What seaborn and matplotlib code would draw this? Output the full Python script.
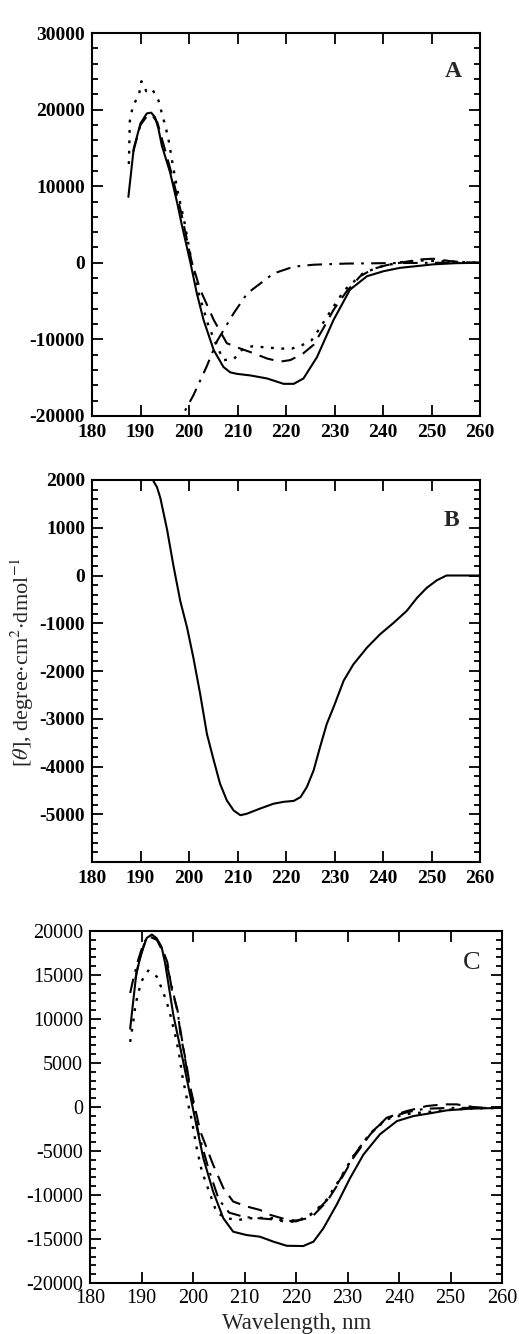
import matplotlib
matplotlib.use("Agg")
import matplotlib.pyplot as plt
from matplotlib.ticker import MultipleLocator, FixedLocator
import seaborn as sns

# ---------------- data ----------------
# Panel A
a_solid_wl = [187.5, 188.6, 190.0, 191.3, 192.2, 193.0, 193.7, 194.4, 196.1, 197.5, 198.5, 200.3, 201.6,
              203.0, 205.1, 207.1, 208.5, 209.9, 212.6, 216.1, 219.5, 221.6, 223.6, 226.4, 229.8,
              233.2, 236.7, 240.1, 243.5, 250.4, 255.0, 260.0]
a_solid_th = [8600, 14900, 18200, 19500, 19600, 19000, 17500, 15300, 11800, 8000, 5000, 0, -3950,
              -7460, -11400, -13600, -14300, -14500, -14700, -15100, -15800, -15800, -15100, -12300, -7460,
              -3500, -1750, -1100, -660, -200, -50, 0]

a_dash_wl = [188.5, 190.0, 191.5, 192.5, 193.5, 194.5, 196.3, 198.4, 200.5, 202.3, 205.1, 207.8, 210.6,
             213.3, 216.1, 218.8, 220.9, 223.6, 225.7, 227.7, 229.8, 232.5, 235.3, 238.0, 240.8, 243.5,
             247.6, 250.4, 253.8, 257.0, 260.0]
a_dash_th = [14500, 18000, 19300, 19200, 18300, 16000, 11900, 6500, 300, -3500, -7460, -10500, -11200,
             -11800, -12500, -12900, -12700, -11800, -10700, -8550, -6140, -3730, -1750, -790, -300, 0,
             440, 530, 220, 50, 0]

a_dot_wl = [187.6, 187.8, 188.4, 189.7, 190.2, 191.2, 192.4, 193.7, 194.4, 195.2, 195.8, 196.7, 197.7,
            199.0, 200.5, 202.0, 204.0, 205.5, 207.1, 209.2, 211.0, 213.0, 215.0, 217.0, 219.1, 221.2,
            223.3, 225.3, 227.0, 229.0, 232.0, 236.0, 240.0, 244.0, 248.0, 252.0, 256.0, 260.0]
a_dot_th = [12900, 18500, 20400, 22000, 23700, 22400, 22700, 21200, 19500, 17700, 16000, 12600, 9200,
            5500, 300, -4000, -8200, -10500, -12700, -12600, -11300, -10900, -11000, -11100, -11200, -11200,
            -10750, -10100, -8500, -6500, -3600, -1300, -400, 100, 300, 200, 100, 0]

a_dd_wl = [197.8, 198.5, 200.9, 203.6, 205.8, 209.2, 212.0, 214.5, 217.4, 221.6, 225.7, 232.5, 240.0,
           250.0, 260.0]
a_dd_th = [-22000, -20100, -17300, -13600, -10200, -6600, -4000, -2800, -1400, -500, -250, -100, -50,
           0, 0]

# Panel B
b_wl = [191.5, 192.7, 193.4, 194.1, 195.5, 196.8, 198.2, 199.6, 200.9, 202.3, 203.7, 205.1, 206.4, 207.8,
        209.2, 210.6, 211.9, 214.7, 217.4, 219.5, 221.6, 223.0, 224.3, 225.7, 227.0, 228.4, 229.8,
        231.9, 233.9, 236.7, 239.4, 242.2, 244.9, 247.0, 249.0, 251.1, 253.1, 260.0]
b_th = [2600, 1970, 1850, 1620, 950, 200, -535, -1090, -1720, -2480, -3320, -3870, -4360, -4710,
        -4920, -5020, -4990, -4880, -4780, -4740, -4720, -4640, -4430, -4080, -3600, -3110, -2760,
        -2200, -1860, -1510, -1230, -990, -740, -470, -260, -100, 0, 0]

# Panel C
c_solid_wl = [187.8, 188.2, 189.0, 190.0, 191.0, 192.0, 192.9, 193.9, 194.6, 196.2, 198.1, 200.1, 202.0,
              203.9, 205.9, 207.8, 210.4, 213.0, 215.6, 218.2, 221.4, 223.4, 225.3, 227.9, 230.5,
              233.1, 236.3, 239.6, 242.8, 246.0, 249.3, 253.8, 260.0]
c_solid_th = [8900, 11000, 15200, 17500, 19200, 19600, 19200, 18200, 16300, 10400, 5150, -500, -5800,
              -9600, -12650, -14170, -14550, -14740, -15300, -15770, -15800, -15300, -13800, -11100, -8080,
              -5400, -3100, -1600, -1030, -720, -380, -190, -100]

c_dash_wl = [188.8, 189.5, 190.5, 191.8, 193.0, 194.0, 195.0, 195.9, 197.0, 197.6, 198.6, 199.4, 200.4,
             201.4, 203.9, 205.9, 207.8, 210.4, 213.0, 215.0, 218.2, 220.0, 221.8, 223.4, 226.0, 228.5,
             231.1, 234.4, 237.6, 241.5, 245.4, 248.6, 251.2, 254.4, 257.0, 260.0]
c_dash_th = [14500, 16500, 18500, 19300, 19000, 18000, 16500, 13300, 11000, 8100, 5300, 2400, -100,
             -2740, -6550, -9220, -10740, -11300, -11700, -12260, -12800, -12900, -12700, -12300, -10740, -8460,
             -5800, -3120, -1220, -460, 110, 300, 300, 0, -100, -100]

c_dot_wl = [187.8, 188.5, 188.8, 189.3, 190.0, 191.3, 193.0, 193.9, 194.8, 195.5, 196.7, 197.3, 198.0,
            198.8, 199.8, 200.7, 201.7, 203.3, 204.6, 206.5, 208.8, 211.1, 213.0, 215.6, 217.5, 219.5,
            221.4, 223.4, 226.0, 228.5, 231.1, 234.4, 237.6, 241.5, 245.0, 250.0, 255.0, 260.0]
c_dot_th = [7400, 10100, 11500, 12800, 14300, 15500, 14800, 13500, 12100, 10700, 7800, 6000, 3300,
            1000, -1600, -4600, -7260, -9890, -12000, -12650, -12830, -12650, -12600, -12650, -13000, -13030,
            -12650, -12000, -10500, -8200, -5600, -3000, -1400, -800, -600, -300, -150, -100]

c_dd_wl = [187.8, 188.5, 189.5, 190.5, 191.8, 193.0, 194.0, 195.0, 197.0, 199.0, 201.0, 203.0, 205.0,
           207.0, 210.0, 214.0, 218.0, 220.0, 222.0, 224.0, 226.0, 228.5, 231.0, 234.4, 237.6, 241.5,
           245.0, 250.0, 255.0, 260.0]
c_dd_th = [12950, 14800, 17000, 18800, 19400, 19000, 17800, 16000, 10800, 3500, -2800, -7000, -10500,
           -12000, -12500, -12700, -12900, -13000, -12600, -11800, -10600, -8300, -5700, -3000, -1300, -600,
           -200, -100, -100, -100]

x_ticks = [180, 190, 200, 210, 220, 230, 240, 250, 260]
a_yticks = [-20000, -10000, 0, 10000, 20000, 30000]
b_yticks = [-5000, -4000, -3000, -2000, -1000, 0, 1000, 2000]
c_yticks = [-20000, -15000, -10000, -5000, 0, 5000, 10000, 15000, 20000]

# ---------------- style ----------------
sns.set_theme(style="ticks")
plt.rcParams["font.family"] = ["Liberation Serif", "DejaVu Serif"]
plt.rcParams["mathtext.fontset"] = "stix"
plt.rcParams["axes.unicode_minus"] = False
plt.rcParams["axes.linewidth"] = 1.5

W, H = 519, 1334
fig = plt.figure(figsize=(W / 100, H / 100), dpi=100)


def add_ax(left, right, top, bottom):
    return fig.add_axes([left / W, 1 - bottom / H, (right - left) / W, (bottom - top) / H])


DASH = (0, (7, 4))
DOT = (0, (1.2, 3.2))
DASHDOT = (0, (7, 3.5, 1.3, 3.5))


def draw(ax, wl, th, ls, lw=1.5):
    sns.lineplot(x=wl, y=th, ax=ax, color="black", linewidth=lw, linestyle=ls,
                 errorbar=None, sort=False)


def style_axes(ax, ylim, yticks, yminor, bold, fs):
    ax.set_xlim(180, 260)
    ax.set_ylim(*ylim)
    ax.xaxis.set_major_locator(FixedLocator(x_ticks))
    ax.yaxis.set_major_locator(FixedLocator(yticks))
    ax.yaxis.set_minor_locator(MultipleLocator(yminor))
    ax.tick_params(which="both", direction="in", top=True, right=True, width=1.3, color="black")
    ax.tick_params(which="major", length=8, pad=6)
    ax.tick_params(axis="y", which="major", pad=5)
    ax.tick_params(which="minor", length=4.5)
    ax.tick_params(axis="x", which="minor", bottom=False, top=False)
    ax.set_xlabel("")
    ax.set_ylabel("")
    for lab in ax.get_xticklabels() + ax.get_yticklabels():
        lab.set_fontsize(fs)
        lab.set_fontweight("bold" if bold else "normal")
        lab.set_color("black")
    for s in ax.spines.values():
        s.set_visible(True)
        s.set_linewidth(1.5)
        s.set_color("black")


# Panel A
axA = add_ax(92, 480, 33, 416)
draw(axA, a_solid_wl, a_solid_th, "-")
draw(axA, a_dash_wl, a_dash_th, DASH)
draw(axA, a_dot_wl, a_dot_th, DOT, lw=1.7)
draw(axA, a_dd_wl, a_dd_th, DASHDOT)
style_axes(axA, (-20000, 30000), a_yticks, 2000, True, 14)
axA.text(0.93, 0.9, "A", transform=axA.transAxes, fontsize=17, fontweight="bold",
         ha="center", va="center")

# Panel B
axB = add_ax(92, 480, 480, 862)
draw(axB, b_wl, b_th, "-")
style_axes(axB, (-6000, 2000), b_yticks, 200, True, 14)
axB.text(0.927, 0.895, "B", transform=axB.transAxes, fontsize=17, fontweight="bold",
         ha="center", va="center")

# Panel C
axC = add_ax(90, 502, 931, 1283)
draw(axC, c_solid_wl, c_solid_th, "-")
draw(axC, c_dash_wl, c_dash_th, DASH)
draw(axC, c_dot_wl, c_dot_th, DOT, lw=1.7)
draw(axC, c_dd_wl, c_dd_th, DASHDOT)
style_axes(axC, (-20000, 20000), c_yticks, 1000, False, 14.5)
axC.tick_params(axis="x", which="major", pad=4)
axC.text(0.927, 0.91, "C", transform=axC.transAxes, fontsize=19, ha="center", va="center")

# Shared labels
fig.text(22 / W, 1 - 662 / H, r"[$\theta$], degree$\cdot$cm$^2$$\cdot$dmol$^{-1}$",
         rotation=90, ha="center", va="center", fontsize=16)
fig.text(297 / W, 5.5 / H, "Wavelength, nm", ha="center", va="baseline", fontsize=16.5)

fig.savefig("out.png", dpi=100)
